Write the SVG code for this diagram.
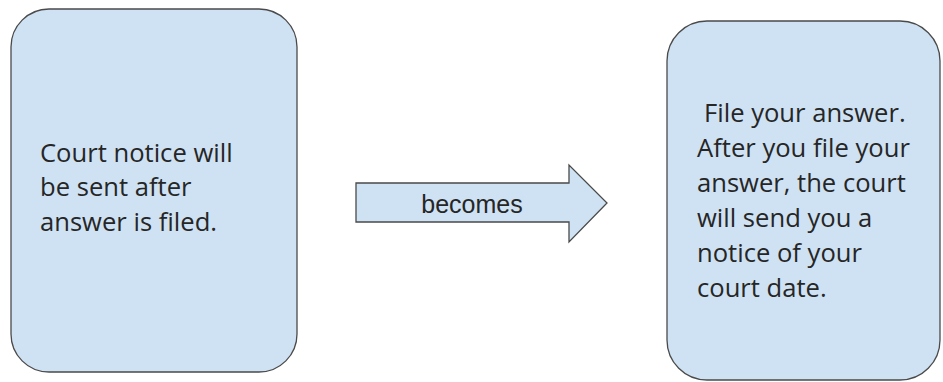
<svg xmlns="http://www.w3.org/2000/svg" width="943" height="382" viewBox="0 0 943 382">
<style>
.box{fill:#cfe2f3;stroke:#4a4a4a;stroke-width:1.3}
.t{font-family:"Open Sans","Noto Sans",sans-serif;font-size:25.6px;fill:#262626}
.a{font-family:"Liberation Sans",Arial,sans-serif;font-size:25px;fill:#262626}
</style>
<rect width="943" height="382" fill="#fff"/>
<g id="node-left">
<rect class="box" x="11" y="9" width="286" height="363" rx="38" ry="38"/>
<text class="t" x="40" y="161.5">Court notice will</text>
<text class="t" x="40" y="196">be sent after</text>
<text class="t" x="40" y="230.5">answer is filed.</text>
</g>
<g id="connectors">
<g id="arrow-becomes">
<path class="box" d="M356,183 L569,183 L569,165 L607,203 L569,242 L569,222 L356,222 Z"/>
<text class="a" x="472" y="213" text-anchor="middle">becomes</text>
</g>
</g>
<g id="node-right">
<rect class="box" x="667" y="21" width="273" height="359" rx="40" ry="40"/>
<text class="t" x="704" y="121.5">File your answer.</text>
<text class="t" x="697" y="156.5">After you file your</text>
<text class="t" x="697" y="191.5">answer, the court</text>
<text class="t" x="697" y="227">will send you a</text>
<text class="t" x="697" y="262">notice of your</text>
<text class="t" x="697" y="297">court date.</text>
</g>
</svg>
